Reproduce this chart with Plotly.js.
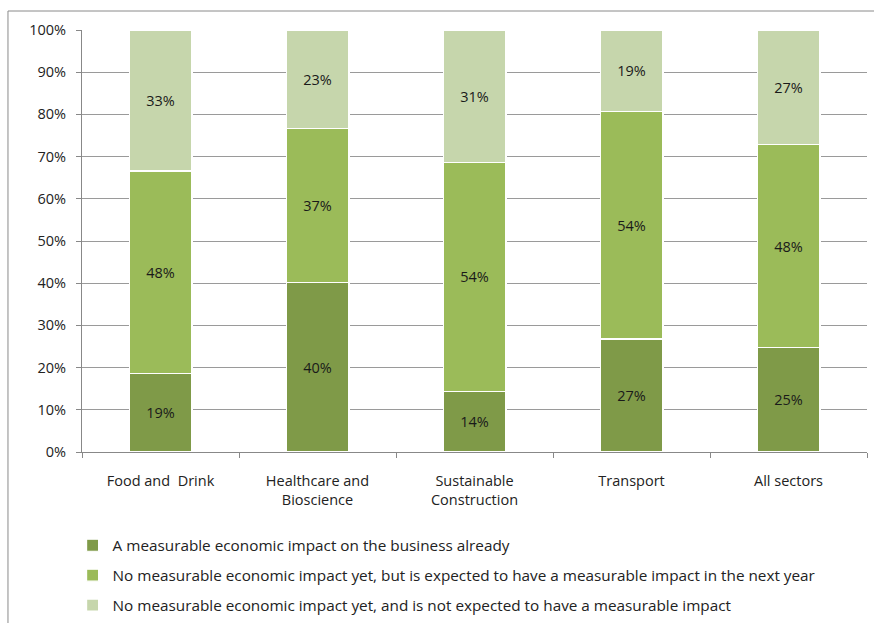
<!DOCTYPE html>
<html>
<head>
<meta charset="utf-8">
<script src="https://cdn.plot.ly/plotly-3.0.1.min.js"></script>
<style>html,body{margin:0;padding:0;background:#fff;}#chart{width:874px;height:623px;}</style>
</head>
<body>
<div id="chart"></div>
<script>
const categories = ["Food and  Drink", "Healthcare and<br>Bioscience", "Sustainable<br>Construction", "Transport", "All sectors"];
const seriesNames = [
  "A measurable economic impact on the business already",
  "No measurable economic impact yet, but is expected to have a measurable impact in the next year",
  "No measurable economic impact yet, and is not expected to have a measurable impact"
];
const impactAlready = [18.6, 40.1, 14.4, 26.8, 24.7];
const impactNextYear = [48.0, 36.6, 54.2, 53.8, 48.1];
const noImpactExpected = [33.4, 23.3, 31.4, 19.4, 27.2];
const yTickVals = [0, 10, 20, 30, 40, 50, 60, 70, 80, 90, 100];
const yTickText = ["0%", "10%", "20%", "30%", "40%", "50%", "60%", "70%", "80%", "90%", "100%"];

const colors = ["#7F9A48", "#9BBB59", "#C6D6AC"];
const allSeries = [impactAlready, impactNextYear, noImpactExpected];
const font = "Open Sans, Liberation Sans, sans-serif";

const traces = allSeries.map((vals, i) => ({
  type: "bar",
  x: categories,
  y: vals,
  name: seriesNames[i],
  legendgroup: "g" + i,
  marker: {color: colors[i], line: {color: "#ffffff", width: 1.2}},
  texttemplate: "%{y:.0f}%",
  textposition: "inside",
  insidetextanchor: "middle",
  textangle: 0,
  textfont: {family: font, size: 14.5, color: "#1a1a1a"},
  hoverinfo: "skip"
}));

const layout = {
  width: 874, height: 623,
  margin: {l: 82, r: 7, t: 30, b: 171, autoexpand: false},
  paper_bgcolor: "#ffffff",
  plot_bgcolor: "#ffffff",
  barmode: "stack",
  bargap: 0.6,
  showlegend: true,
  legend: {
    orientation: "v",
    x: -0.012, xanchor: "left",
    y: -0.182, yanchor: "top",
    traceorder: "grouped",
    tracegroupgap: 7,
    font: {family: font, size: 15.3, color: "#222"},
    itemwidth: 30,
    bgcolor: "rgba(0,0,0,0)"
  },
  xaxis: {
    type: "category",
    tickson: "boundaries",
    ticks: "outside",
    ticklen: 5,
    tickcolor: "#888",
    showline: true,
    linecolor: "#888",
    linewidth: 1,
    ticklabelstandoff: 16,
    tickfont: {family: font, size: 14.5, color: "#222"},
    fixedrange: true
  },
  yaxis: {
    range: [0, 100],
    tickvals: yTickVals,
    ticktext: yTickText,
    ticks: "outside",
    ticklen: 5,
    tickcolor: "#888",
    showline: true,
    linecolor: "#888",
    linewidth: 1,
    showgrid: true,
    gridcolor: "#9a9a9a",
    gridwidth: 1,
    zeroline: false,
    ticklabelstandoff: 7,
    tickfont: {family: font, size: 14.5, color: "#222"},
    fixedrange: true
  },
  shapes: [{
    type: "rect", xref: "paper", yref: "paper",
    x0: -0.0943, x1: 1.5, y0: -1, y1: 1.045,
    line: {color: "#8a8a8a", width: 1},
    fillcolor: "rgba(0,0,0,0)",
    layer: "below"
  }]
};

Plotly.newPlot("chart", traces, layout, {displayModeBar: false, staticPlot: true});
</script>
</body>
</html>
